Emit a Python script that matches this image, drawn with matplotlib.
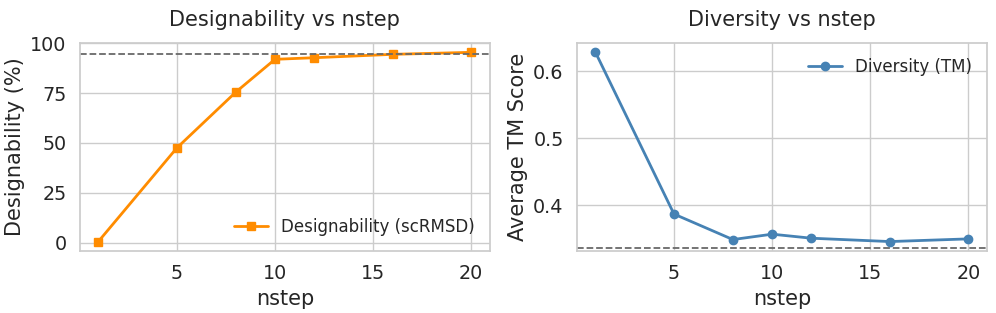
import matplotlib
matplotlib.use("Agg")
import matplotlib.pyplot as plt
import seaborn as sns

# data
nsteps = [1, 5, 8, 10, 12, 16, 20]
designability = [0.5, 47.5, 75.5, 92.0, 92.8, 94.5, 95.5]
designability_ref = 94.5
diversity_tm = [0.628, 0.387, 0.349, 0.357, 0.351, 0.346, 0.350]
diversity_ref = 0.337

sns.set_theme(style="whitegrid", font_scale=1.25)

fig, (ax1, ax2) = plt.subplots(1, 2, figsize=(9.96, 3.13), dpi=100)
fig.subplots_adjust(left=0.080, right=0.991, top=0.863, bottom=0.198, wspace=0.212)

# left: designability
ax1.plot(nsteps, designability, color="darkorange", marker="s", lw=2, ms=6,
         label="Designability (scRMSD)")
ax1.axhline(designability_ref, color="dimgray", ls="--", lw=1.3)
ax1.set_title("Designability vs nstep", pad=12)
ax1.set_xlabel("nstep")
ax1.set_ylabel("Designability (%)")
ax1.set_yticks([0, 25, 50, 75, 100])
ax1.set_xticks([5, 10, 15, 20])
ax1.legend(loc="lower right", frameon=False, fontsize=12)

# right: diversity
ax2.plot(nsteps, diversity_tm, color="steelblue", marker="o", lw=2, ms=6,
         label="Diversity (TM)")
ax2.axhline(diversity_ref, color="dimgray", ls="--", lw=1.3)
ax2.set_title("Diversity vs nstep", pad=12)
ax2.set_xlabel("nstep")
ax2.set_ylabel("Average TM Score")
ax2.set_yticks([0.4, 0.5, 0.6])
ax2.set_xticks([5, 10, 15, 20])
ax2.legend(loc="upper right", frameon=False, fontsize=12)

fig.savefig("out.png", dpi=100)
